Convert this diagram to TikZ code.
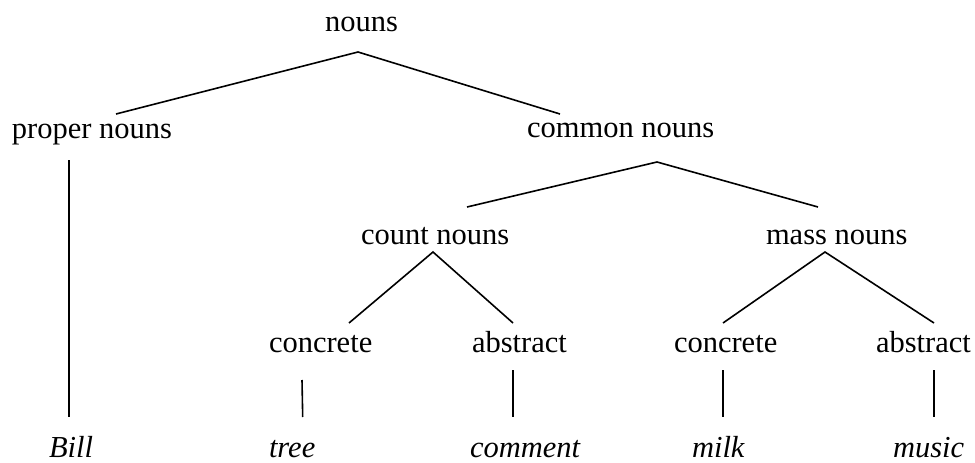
\documentclass[tikz,border=0pt]{standalone}
\usepackage{fontspec}
\setmainfont{Liberation Serif}
\tikzset{
  lbl/.style={anchor=base west, inner sep=0pt, outer sep=0pt, font=\fontsize{30.5}{36}\selectfont},
  leaf/.style={lbl, text depth=0pt, font=\fontsize{30.5}{36}\selectfont\itshape},
  edge/.style={line width=1.6pt, line cap=butt}
}
\begin{document}
\begin{tikzpicture}[x=1pt, y=-1pt]
\useasboundingbox (0,0) rectangle (975,463);
% labels
\node[lbl] (nouns) at (325,31) {nouns};
\node[lbl] (proper) at (12,138) {proper nouns};
\node[lbl] (common) at (527,137) {common nouns};
\node[lbl] (count) at (361,244) {count nouns};
\node[lbl] (mass) at (766,244) {mass nouns};
\node[lbl] (conc1) at (269,352) {concrete};
\node[lbl] (abs1) at (472,352) {abstract};
\node[lbl] (conc2) at (674,352) {concrete};
\node[lbl] (abs2) at (876,352) {abstract};
\node[leaf] (bill) at (49,457.5) {Bill};
\node[leaf] (tree) at (269,457.5) {tree};
\node[leaf] (comment) at (470,457.5) {comment};
\node[leaf] (milk) at (692,457.5) {milk};
\node[leaf] (music) at (893,457.5) {music};
% connector end points
\coordinate (nouns-b) at (358,52);
\coordinate (proper-t) at (116,114);
\coordinate (common-t) at (560,114);
\coordinate (proper-b) at (69,160);
\coordinate (bill-t) at (69,417);
\coordinate (common-b) at (657,162);
\coordinate (count-t) at (467,207);
\coordinate (mass-t) at (818,207);
\coordinate (count-b) at (433,252);
\coordinate (conc1-t) at (349,323);
\coordinate (abs1-t) at (513,323);
\coordinate (mass-b) at (825,252);
\coordinate (conc2-t) at (723,323);
\coordinate (abs2-t) at (934,323);
\coordinate (conc1-b) at (302,380);
\coordinate (tree-t) at (302.7,417);
\coordinate (abs1-b) at (513,370);
\coordinate (comment-t) at (513,417);
\coordinate (conc2-b) at (723,370);
\coordinate (milk-t) at (723,417);
\coordinate (abs2-b) at (934,370);
\coordinate (music-t) at (934,417);
% connectors
\draw[edge] (proper-t) -- (nouns-b) -- (common-t);
\draw[edge] (proper-b) -- (bill-t);
\draw[edge] (count-t) -- (common-b) -- (mass-t);
\draw[edge] (conc1-t) -- (count-b) -- (abs1-t);
\draw[edge] (conc2-t) -- (mass-b) -- (abs2-t);
\draw[edge] (conc1-b) -- (tree-t);
\draw[edge] (abs1-b) -- (comment-t);
\draw[edge] (conc2-b) -- (milk-t);
\draw[edge] (abs2-b) -- (music-t);
\end{tikzpicture}
\end{document}
